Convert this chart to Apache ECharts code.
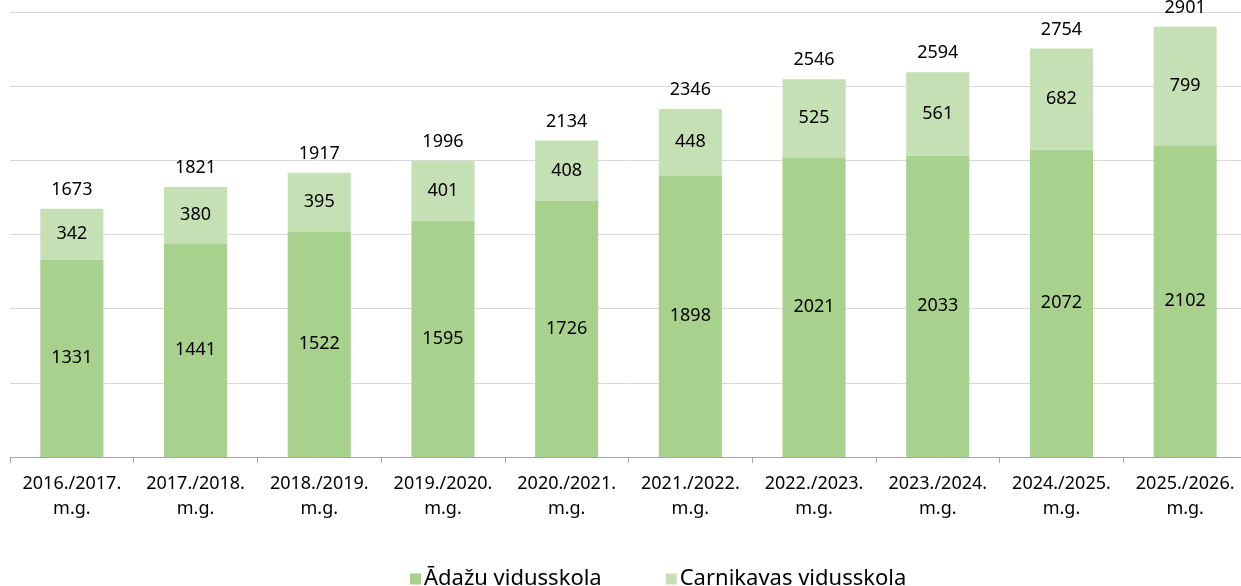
<!DOCTYPE html>
<html><head><meta charset="utf-8">
<script src="https://cdn.jsdelivr.net/npm/echarts@6/dist/echarts.min.js"></script>
<style>html,body{margin:0;padding:0;background:#fff;overflow:hidden}#c{width:1250px;height:586px}</style>
</head><body><div id="c"></div>
<script>
const categories = ['2016./2017.\nm.g.','2017./2018.\nm.g.','2018./2019.\nm.g.','2019./2020.\nm.g.','2020./2021.\nm.g.','2021./2022.\nm.g.','2022./2023.\nm.g.','2023./2024.\nm.g.','2024./2025.\nm.g.','2025./2026.\nm.g.'];
const adazi = [1331,1441,1522,1595,1726,1898,2021,2033,2072,2102];
const carnikava = [342,380,395,401,408,448,525,561,682,799];
const totals = [1673,1821,1917,1996,2134,2346,2546,2594,2754,2901];
const seriesNames = ['Ādažu vidusskola','Carnikavas vidusskola'];

const FONT = 'Noto Sans';
const chart = echarts.init(document.getElementById('c'));
chart.setOption({
  animation:false,
  textStyle:{fontFamily:FONT},
  grid:{left:10,right:3,top:12,bottom:129,containLabel:false},
  legend:{bottom:-9,left:405,itemGap:64,itemWidth:11,itemHeight:11,icon:'rect',
    textStyle:{fontFamily:FONT,fontSize:22,color:'#000',padding:[0,0,0,-2]},data:seriesNames},
  xAxis:{type:'category',data:categories,
    axisLine:{lineStyle:{color:'#a6a6a6',width:1}},
    axisTick:{show:true,length:6,lineStyle:{color:'#a6a6a6'}},
    axisLabel:{fontFamily:FONT,fontSize:18,color:'#000',lineHeight:25,margin:14,interval:0}},
  yAxis:{type:'value',min:0,max:3000,interval:500,
    axisLabel:{show:false},axisLine:{show:false},axisTick:{show:false},
    splitLine:{lineStyle:{color:'#d9d9d9',width:1}}},
  series:[
    {name:seriesNames[0],type:'bar',stack:'s',data:adazi,barWidth:'51%',
     itemStyle:{color:'#a9d18e'},
     label:{show:true,position:'inside',fontFamily:FONT,fontSize:18,color:'#000'}},
    {name:seriesNames[1],type:'bar',stack:'s',data:carnikava,barWidth:'51%',
     itemStyle:{color:'#c5e0b4'},
     label:{show:true,position:'inside',fontFamily:FONT,fontSize:18,color:'#000'}},
    {name:'total',type:'scatter',data:totals,symbolSize:0,silent:true,z:5,
     itemStyle:{color:'#000'},
     label:{show:true,position:'top',distance:10,fontFamily:FONT,fontSize:18,color:'#000',opacity:1}}
  ]
});
</script></body></html>
